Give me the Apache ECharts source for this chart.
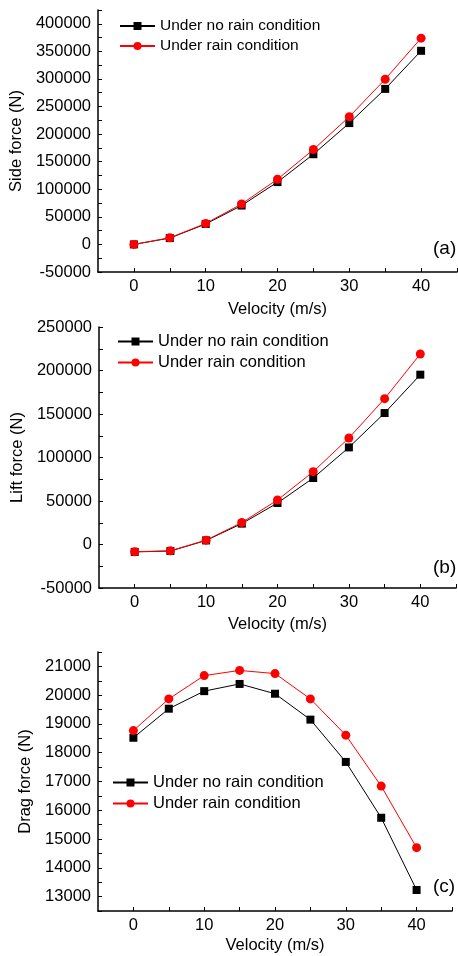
<!DOCTYPE html>
<html>
<head>
<meta charset="utf-8">
<script src="https://cdn.jsdelivr.net/npm/echarts@6/dist/echarts.min.js"></script>
<style>
html,body{margin:0;padding:0;background:#fff;}
#chart{width:458px;height:956px;}
</style>
</head>
<body>
<div id="chart"></div>
<script>
// ---- data ----
const velocity = [0, 5, 10, 15, 20, 25, 30, 35, 40];
const sideNoRain = [0, 11500, 37000, 70500, 113000, 163500, 220000, 282000, 351000];
const sideRain   = [0, 12000, 38000, 73300, 118200, 172000, 231500, 299500, 374000];
const liftNoRain = [-8500, -7500, 4700, 24000, 47700, 76400, 111600, 151100, 195200];
const liftRain   = [-8300, -7300, 5000, 25200, 51100, 83700, 122400, 167600, 219000];
const dragNoRain = [18520, 19530, 20140, 20390, 20050, 19150, 17680, 15740, 13230];
const dragRain   = [18770, 19870, 20680, 20860, 20750, 19870, 18610, 16840, 14700];

const seriesNames = ['Under no rain condition', 'Under rain condition'];
const xMajorTicks = [0, 10, 20, 30, 40];
const xMinorTicks = [5, 15, 25, 35, 45];
const sideMajorTicks = [-50000, 0, 50000, 100000, 150000, 200000, 250000, 300000, 350000, 400000];
const sideMinorTicks = [-25000, 25000, 75000, 125000, 175000, 225000, 275000, 325000, 375000, 425000];
const liftMajorTicks = [-50000, 0, 50000, 100000, 150000, 200000, 250000];
const liftMinorTicks = [-25000, 25000, 75000, 125000, 175000, 225000];
const dragMajorTicks = [13000, 14000, 15000, 16000, 17000, 18000, 19000, 20000, 21000];
const dragMinorTicks = [12500, 13500, 14500, 15500, 16500, 17500, 18500, 19500, 20500, 21500];

const FONT = "'Liberation Sans', Arial, sans-serif";

const panels = [
  { grid: {left: 98, top: 10, width: 359, height: 262}, yMin: -50000, yMax: 425000,
    major: sideMajorTicks, minor: sideMinorTicks, yName: 'Side force (N)', yNameGap: 73,
    xNameGap: 29, noRain: sideNoRain, rain: sideRain, tag: '(a)', tagTop: 239,
    legend: {left: 119, top: 18}, legendFont: 15.5 },
  { grid: {left: 99, top: 327, width: 357, height: 261}, yMin: -50000, yMax: 250000,
    major: liftMajorTicks, minor: liftMinorTicks, yName: 'Lift force (N)', yNameGap: 66,
    xNameGap: 28, noRain: liftNoRain, rain: liftRain, tag: '(b)', tagTop: 558,
    legend: {left: 117, top: 333}, legendFont: 16.5 },
  { grid: {left: 98, top: 652, width: 354, height: 259}, yMin: 12500, yMax: 21500,
    major: dragMajorTicks, minor: dragMinorTicks, yName: 'Drag force (N)', yNameGap: 59,
    xNameGap: 26, noRain: dragNoRain, rain: dragRain, tag: '(c)', tagTop: 877,
    legend: {left: 112, top: 774}, legendFont: 16.5 }
];

const option = {
  backgroundColor: '#fff',
  animation: false,
  textStyle: {fontFamily: FONT},
  grid: [], xAxis: [], yAxis: [], series: [], legend: [], title: []
};

const axisLine = {show: true, onZero: false, lineStyle: {color: '#000', width: 1.5}};
const fmt = v => String(v);
const xAllTicks = xMajorTicks.concat(xMinorTicks).sort((a, b) => a - b);

panels.forEach((p, i) => {
  const yAllTicks = p.major.concat(p.minor).sort((a, b) => a - b);
  option.grid.push(Object.assign({containLabel: false}, p.grid));
  option.xAxis.push({
    type: 'value', gridIndex: i, min: -5, max: 45, position: 'bottom',
    name: 'Velocity (m/s)', nameLocation: 'middle', nameGap: p.xNameGap,
    nameTextStyle: {color: '#000', fontSize: 16.5, fontFamily: FONT},
    axisLine: axisLine,
    axisTick: {show: true, inside: true, length: 4, customValues: xAllTicks, lineStyle: {color: '#000', width: 1}},
    axisLabel: {show: true, customValues: xMajorTicks, formatter: fmt, color: '#000', fontSize: 16.5, margin: 6, fontFamily: FONT},
    splitLine: {show: false}
  });
  option.yAxis.push({
    type: 'value', gridIndex: i, min: p.yMin, max: p.yMax, position: 'left',
    name: p.yName, nameLocation: 'middle', nameGap: p.yNameGap, nameRotate: 90,
    nameTextStyle: {color: '#000', fontSize: 16.5, fontFamily: FONT},
    axisLine: axisLine,
    axisTick: {show: true, inside: true, length: 4, customValues: yAllTicks, lineStyle: {color: '#000', width: 1}},
    axisLabel: {show: true, customValues: p.major, formatter: fmt, color: '#000', fontSize: 16.5, margin: 7, fontFamily: FONT},
    splitLine: {show: false}
  });
  option.series.push({
    name: seriesNames[0], type: 'line', xAxisIndex: i, yAxisIndex: i,
    data: velocity.map((v, k) => [v, p.noRain[k]]),
    symbol: 'rect', symbolSize: 8, showAllSymbol: true,
    lineStyle: {color: '#000', width: 1}, itemStyle: {color: '#000'}, z: 2
  });
  option.series.push({
    name: seriesNames[1], type: 'line', xAxisIndex: i, yAxisIndex: i,
    data: velocity.map((v, k) => [v, p.rain[k]]),
    symbol: 'circle', symbolSize: 9, showAllSymbol: true,
    lineStyle: {color: '#ff0000', width: 1}, itemStyle: {color: '#ff0000'}, z: 3
  });
  option.legend.push({
    data: seriesNames, orient: 'vertical', left: p.legend.left, top: p.legend.top,
    itemWidth: 35, itemHeight: 10, itemGap: 4, padding: 0,
    textStyle: {color: '#000', fontSize: p.legendFont, fontFamily: FONT}
  });
  option.title.push({
    text: p.tag, left: 433, top: p.tagTop, padding: 0,
    textStyle: {color: '#000', fontSize: 19, fontWeight: 'normal', fontFamily: FONT}
  });
});

const chart = echarts.init(document.getElementById('chart'), null, {renderer: 'canvas'});
chart.setOption(option);
</script>
</body>
</html>
